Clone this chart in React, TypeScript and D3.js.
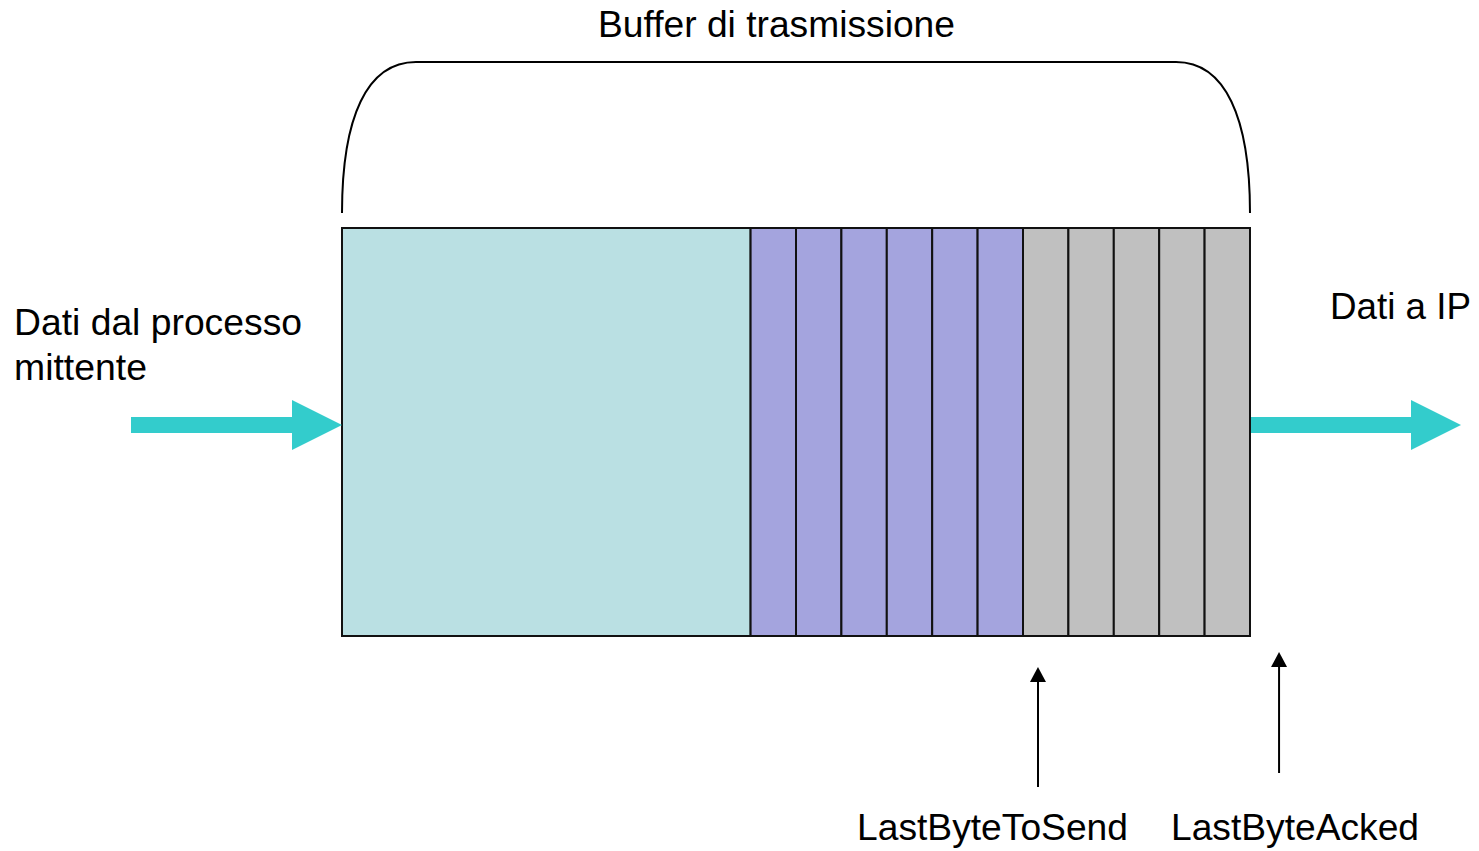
import React from "react";
import * as d3 from "d3";

const W = 1479;
const H = 851;

// buffer composition in cell units
const segments = [
  { name: "free", start: 0, end: 9, cells: 1, color: "#BAE0E3" },
  { name: "toSend", start: 9, end: 15, cells: 6, color: "#A4A4DE" },
  { name: "sentNotAcked", start: 15, end: 20, cells: 5, color: "#C0C0C0" },
];
const pointers = [
  { label: "LastByteToSend", pos: 15.33, tipY: 667, baseY: 787, labelX: 857, labelW: 271 },
  { label: "LastByteAcked", pos: 20.64, tipY: 652, baseY: 773, labelX: 1171, labelW: 248 },
];
const title = "Buffer di trasmissione";
const leftLabel = ["Dati dal processo", "mittente"];
const rightLabel = "Dati a IP";

const FONT = "'Liberation Sans', Arial, Helvetica, sans-serif";
const FS = 36;

export default function App() {
  const x = d3.scaleLinear().domain([0, 20]).range([342, 1250]);
  const y0 = 228;
  const y1 = 636;
  const arrowY = 425;

  const cells: { x0: number; x1: number; color: string }[] = [];
  segments.forEach((s) => {
    const step = (s.end - s.start) / s.cells;
    for (let i = 0; i < s.cells; i++) {
      cells.push({ x0: x(s.start + i * step), x1: x(s.start + (i + 1) * step), color: s.color });
    }
  });

  const bigArrow = (xs: number, xe: number) => {
    const headLen = 50;
    const xh = xe - headLen;
    return `M${xs},${arrowY - 8} L${xh},${arrowY - 8} L${xh},${arrowY - 25} L${xe},${arrowY} L${xh},${arrowY + 25} L${xh},${arrowY + 8} L${xs},${arrowY + 8} Z`;
  };

  const bl = x(0);
  const br = x(20);
  const braceBottom = 213;
  const braceTop = 62;
  const bracePath = `M${bl},${braceBottom} C${bl},${braceTop + 55} ${bl + 25},${braceTop} ${bl + 74},${braceTop} L${br - 74},${braceTop} C${br - 25},${braceTop} ${br},${braceTop + 55} ${br},${braceBottom}`;

  return (
    <svg width={W} height={H} style={{ position: "absolute", left: 0, top: 0 }}>
      <rect width={W} height={H} fill="#fff" />
      <path d={bracePath} fill="none" stroke="#000" strokeWidth={2} />
      <text x={598} y={37} fontFamily={FONT} fontSize={FS} textLength={357} lengthAdjust="spacingAndGlyphs">
        {title}
      </text>

      {cells.map((c, i) => (
        <rect key={i} x={c.x0} y={y0} width={c.x1 - c.x0} height={y1 - y0} fill={c.color} stroke="#111" strokeWidth={2} />
      ))}
      <rect x={bl} y={y0} width={br - bl} height={y1 - y0} fill="none" stroke="#111" strokeWidth={2} />

      <path d={bigArrow(131, bl)} fill="#33CCCC" />
      <path d={bigArrow(br + 1, 1461)} fill="#33CCCC" />

      <text x={14} y={335} fontFamily={FONT} fontSize={FS} textLength={288} lengthAdjust="spacingAndGlyphs">
        {leftLabel[0]}
      </text>
      <text x={14} y={380} fontFamily={FONT} fontSize={FS} textLength={133} lengthAdjust="spacingAndGlyphs">
        {leftLabel[1]}
      </text>
      <text x={1330} y={319} fontFamily={FONT} fontSize={FS} textLength={141} lengthAdjust="spacingAndGlyphs">
        {rightLabel}
      </text>

      {pointers.map((p) => {
        const px = x(p.pos);
        return (
          <g key={p.label}>
            <line x1={px} x2={px} y1={p.baseY} y2={p.tipY + 14} stroke="#000" strokeWidth={2} />
            <path d={`M${px},${p.tipY} L${px - 8},${p.tipY + 15} L${px + 8},${p.tipY + 15} Z`} fill="#000" />
            <text x={p.labelX} y={840} fontFamily={FONT} fontSize={FS} textLength={p.labelW} lengthAdjust="spacingAndGlyphs">
              {p.label}
            </text>
          </g>
        );
      })}
    </svg>
  );
}
